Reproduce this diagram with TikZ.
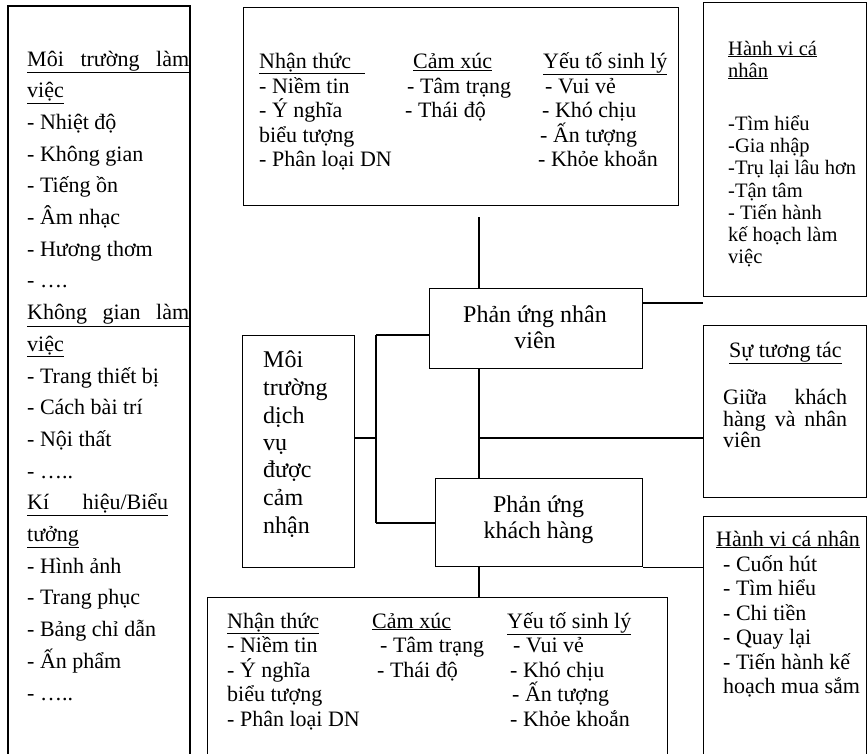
\documentclass[tikz,border=0pt]{standalone}
\usepackage{fontspec}
\setmainfont{Liberation Serif}
\newcommand\fs{\fontsize{22}{26}\selectfont}
\newcommand\fsbig{\fontsize{24}{28}\selectfont}
\newcommand\fssmall{\fontsize{20.5}{24}\selectfont}
\begin{document}
\begin{tikzpicture}[x=1pt,y=-1pt,
  box/.style={draw, line width=1.2pt, inner sep=0pt, anchor=north west},
  t/.style={anchor=base west, inner sep=0pt, font=\fs},
  tc/.style={anchor=base, inner sep=0pt, font=\fsbig},
  ln/.style={line width=1.2pt}]
\useasboundingbox (0,0) rectangle (867,753);
\fill[white] (0,0) rectangle (867,753);
% boxes
\node[box, line width=1.8pt, minimum width=182pt, minimum height=760pt] (left) at (7,5) {};
\node[box, minimum width=435pt, minimum height=198pt] (top) at (243,7) {};
\node[box, minimum width=162.5pt, minimum height=294pt] (tr) at (703,2) {};
\node[box, minimum width=162.5pt, minimum height=172pt] (stt) at (703,325) {};
\node[box, minimum width=162.5pt, minimum height=250pt] (br) at (703,516) {};
\node[box, minimum width=213pt, minimum height=80pt] (punv) at (429,288) {};
\node[box, minimum width=207pt, minimum height=88pt] (pukh) at (435,478) {};
\node[box, minimum width=112pt, minimum height=232pt] (moi) at (242,335) {};
\node[box, minimum width=460pt, minimum height=170pt] (bot) at (207,597) {};
% connector points
\coordinate (c1) at (479,217);
\coordinate (j1) at (376,438);
\coordinate (j2) at (376,335);
\coordinate (j3) at (376,523);
\coordinate (j4) at (479,438);
\coordinate (j5) at (703,303);
% connectors
\draw[ln] (c1) -- (c1 |- punv.north);
\draw[ln] (punv.south -| c1) -- (pukh.north -| c1);
\draw[ln] (pukh.south -| c1) -- (bot.north -| c1);
\draw[ln] (moi.east |- j1) -- (j1);
\draw[ln] (j2) -- (j3);
\draw[ln] (j2) -- (punv.west |- j2);
\draw[ln] (j3) -- (pukh.west |- j3);
\draw[ln] (j4) -- (stt.west |- j4);
\draw[ln] (punv.east |- j5) -- (j5);
\draw[ln] (pukh.south east) -- (br.west |- pukh.south east);
% left column text
\foreach \s [count=\i from 0] in {
  {\underline{\makebox[162pt][s]{Môi\hfill trường\hfill làm}}},
  {\underline{việc}},
  {- Nhiệt độ}, {- Không gian}, {- Tiếng ồn}, {- Âm nhạc}, {- Hương thơm}, {- ….},
  {\underline{\makebox[162pt][s]{Không\hfill gian\hfill làm}}},
  {\underline{việc}},
  {- Trang thiết bị}, {- Cách bài trí}, {- Nội thất}, {- …..},
  {\underline{\makebox[141pt][s]{Kí\hfill hiệu/Biểu}}},
  {\underline{tưởng}},
  {- Hình ảnh}, {- Trang phục}, {- Bảng chỉ dẫn}, {- Ấn phẩm}, {- …..}}
  \node[t] (L\i) at (27,{66+31.7*\i}) {\s};
% top box text
\node[t] (ta0) at (259,68.5) {\underline{\makebox[106pt][l]{Nhận thức}}};
\node[t] (ta1) at (259,93) {- Niềm tin};
\node[t] (ta2) at (259,117.5) {- Ý nghĩa};
\node[t] (ta3) at (259,142) {biểu tượng};
\node[t] (ta4) at (259,166.5) {- Phân loại DN};
\node[t] (tb0) at (413,68.5) {\underline{Cảm xúc}};
\node[t] (tb1) at (407,93) {- Tâm trạng};
\node[t] (tb2) at (405,117.5) {- Thái độ};
\node[t] (tc0) at (543,68.5) {\underline{Yếu tố sinh lý}};
\node[t] (tc1) at (545,93) {- Vui vẻ};
\node[t] (tc2) at (542,117.5) {- Khó chịu};
\node[t] (tc3) at (540,142) {- Ấn tượng};
\node[t] (tc4) at (538,166.5) {- Khỏe khoắn};
% bottom box text
\node[t] (ba0) at (227,628) {\underline{Nhận thức}};
\node[t] (ba1) at (227,652.5) {- Niềm tin};
\node[t] (ba2) at (227,677) {- Ý nghĩa};
\node[t] (ba3) at (227,701.5) {biểu tượng};
\node[t] (ba4) at (227,726) {- Phân loại DN};
\node[t] (bb0) at (372,628) {\underline{Cảm xúc}};
\node[t] (bb1) at (380,652.5) {- Tâm trạng};
\node[t] (bb2) at (377,677) {- Thái độ};
\node[t] (bc0) at (507,628) {\underline{Yếu tố sinh lý}};
\node[t] (bc1) at (513,652.5) {- Vui vẻ};
\node[t] (bc2) at (510,677) {- Khó chịu};
\node[t] (bc3) at (512,701.5) {- Ấn tượng};
\node[t] (bc4) at (510,726) {- Khỏe khoắn};
% top right box text
\begin{scope}[every node/.append style={font=\fssmall}]
\node[t, font=\fssmall] (r0) at (728,55) {\underline{Hành vi cá}};
\node[t, font=\fssmall] (r1) at (728,77) {\underline{nhân}};
\node[t, font=\fssmall] (r2) at (728,130) {-Tìm hiểu};
\node[t, font=\fssmall] (r3) at (728,152) {-Gia nhập};
\node[t, font=\fssmall] (r4) at (728,174.5) {-Trụ lại lâu hơn};
\node[t, font=\fssmall] (r5) at (728,197) {-Tận tâm};
\node[t, font=\fssmall] (r6) at (728,219) {- Tiến hành};
\node[t, font=\fssmall] (r7) at (728,241) {kế hoạch làm};
\node[t, font=\fssmall] (r8) at (728,263) {việc};
\end{scope}
% interaction box text
\node[t] (s0) at (729,357) {\underline{Sự tương tác}};
\node[t] (s1) at (723,404) {\makebox[124pt][s]{Giữa\hfill khách}};
\node[t] (s2) at (723,426) {\makebox[124pt][s]{hàng\hfill và\hfill nhân}};
\node[t] (s3) at (723,447) {viên};
% bottom right box text
\node[t] (q0) at (716,546) {\underline{Hành vi cá nhân}};
\node[t] (q1) at (723,571) {- Cuốn hút};
\node[t] (q2) at (723,595.5) {- Tìm hiểu};
\node[t] (q3) at (723,620) {- Chi tiền};
\node[t] (q4) at (723,644.5) {- Quay lại};
\node[t] (q5) at (723,669) {- Tiến hành kế};
\node[t] (q6) at (723,693.5) {hoạch mua sắm};
% perceived service environment
\node[t, font=\fsbig] (m0) at (263,367) {Môi};
\node[t, font=\fsbig] (m1) at (263,395) {trường};
\node[t, font=\fsbig] (m2) at (263,423) {dịch};
\node[t, font=\fsbig] (m3) at (263,450) {vụ};
\node[t, font=\fsbig] (m4) at (263,477) {được};
\node[t, font=\fsbig] (m5) at (263,505) {cảm};
\node[t, font=\fsbig] (m6) at (263,533) {nhận};
% reactions
\node[tc] (p0) at (535,322) {Phản ứng nhân};
\node[tc] (p1) at (535,348) {viên};
\node[tc] (k0) at (538.5,512) {Phản ứng};
\node[tc] (k1) at (538.5,538) {khách hàng};
\end{tikzpicture}
\end{document}
